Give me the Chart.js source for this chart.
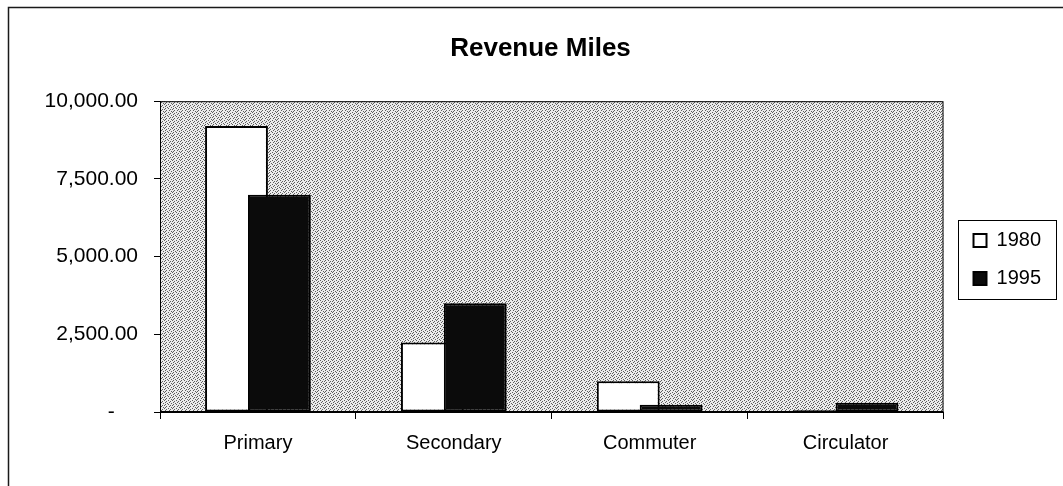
<!DOCTYPE html>
<html><head><meta charset="utf-8">
<script src="https://cdn.jsdelivr.net/npm/chart.js@4.4.0/dist/chart.umd.min.js"></script>
<style>html,body{margin:0;padding:0;background:#fff;} canvas{display:block;}</style>
</head><body>
<canvas id="c" width="1063" height="486"></canvas>
<script>
const categories = ['Primary', 'Secondary', 'Commuter', 'Circulator'];
const seriesNames = ['1980', '1995'];
const values1980 = [9200, 2240, 990, 60];
const values1995 = [6990, 3500, 230, 300];
const yTicks = [0, 2500, 5000, 7500, 10000];
const chartTitle = 'Revenue Miles';

const FONT = '"Liberation Sans", Arial, Helvetica, sans-serif';

function makePattern(ctx) {
  const rows = [
    '10001000',
    '00100010',
    '01000100',
    '00010001',
    '10000100',
    '00101000',
    '01000010',
    '00010100'
  ];
  const t = document.createElement('canvas');
  t.width = 8; t.height = 8;
  const tc = t.getContext('2d');
  tc.fillStyle = '#ececec';
  tc.fillRect(0, 0, 8, 8);
  tc.fillStyle = '#5e5e5e';
  rows.forEach((r, y) => { for (let x = 0; x < 8; x++) if (r[x] === '1') tc.fillRect(x, y, 1, 1); });
  return ctx.createPattern(t, 'repeat');
}

const decor = {
  id: 'decor',
  beforeDraw(chart) {
    const { ctx, chartArea: a } = chart;
    ctx.save();
    ctx.strokeStyle = '#1a1a1a';
    ctx.lineWidth = 1.5;
    ctx.beginPath();
    ctx.moveTo(8.5, chart.height);
    ctx.lineTo(8.5, 7.5);
    ctx.lineTo(chart.width, 7.5);
    ctx.stroke();
    ctx.fillStyle = makePattern(ctx);
    ctx.fillRect(a.left, a.top, a.right - a.left, a.bottom - a.top);
    ctx.strokeStyle = '#000';
    ctx.lineWidth = 1;
    ctx.strokeRect(a.left + 0.5, a.top + 0.5, a.right - a.left - 1, a.bottom - a.top - 1);
    ctx.restore();
  },
  beforeDatasetsDraw(chart) {
    // draw 1980 first so 1995 overlaps it, like the reference
    chart.data.datasets.forEach((d, i) => {
      const m = chart.getDatasetMeta(i);
      if (!m.hidden) m.controller.draw();
    });
    return false;
  },
  afterDraw(chart) {
    const lg = chart.legend;
    const hb = lg.legendHitBoxes;
    if (!hb || !hb.length) return;
    const top = hb[0].top, bot = hb[hb.length - 1].top + hb[hb.length - 1].height;
    const cy = (top + bot) / 2;
    const ctx = chart.ctx;
    ctx.save();
    ctx.strokeStyle = '#000';
    ctx.lineWidth = 1;
    ctx.strokeRect(Math.round(lg.left + 2) + 0.5, Math.round(cy - 39.5) + 0.5, 98, 79);
    ctx.restore();
  }
};

const barStyle = { borderColor: '#000', borderWidth: 2, borderSkipped: false, categoryPercentage: 0.438, barPercentage: 1.465 };

new Chart(document.getElementById('c'), {
  type: 'bar',
  data: {
    labels: categories,
    datasets: [
      Object.assign({ label: seriesNames[0], data: values1980, backgroundColor: '#ffffff' }, barStyle),
      Object.assign({ label: seriesNames[1], data: values1995, backgroundColor: '#0b0b0b' }, barStyle)
    ]
  },
  options: {
    responsive: false,
    devicePixelRatio: 1,
    animation: false,
    layout: { padding: { left: 30, right: 12, top: 0, bottom: 0 } },
    plugins: {
      tooltip: { enabled: false },
      title: {
        display: true,
        text: chartTitle,
        color: '#000',
        font: { family: FONT, size: 26, weight: 'bold', lineHeight: 1.2 },
        padding: { top: 33, bottom: 37 }
      },
      legend: {
        display: true,
        position: 'right',
        fullSize: false,
        title: { display: true, text: '', padding: 0, font: { size: 5, lineHeight: 1.2 } },
        labels: {
          color: '#000',
          font: { family: FONT, size: 20, lineHeight: 1.1 },
          boxWidth: 13,
          boxHeight: 13,
          padding: 18
        }
      }
    },
    scales: {
      x: {
        grid: { display: true, drawOnChartArea: false, drawTicks: true, tickLength: 7, color: '#000', offset: true },
        border: { display: true, color: '#000', width: 1 },
        ticks: { color: '#000', font: { family: FONT, size: 20 }, padding: 12, maxRotation: 0 },
        afterFit(s) { s.height = 74; }
      },
      y: {
        min: 0, max: 10000,
        afterBuildTicks(s) { s.ticks = yTicks.map(v => ({ value: v })); },
        grid: { display: true, drawOnChartArea: false, drawTicks: true, tickLength: 6, color: '#000' },
        border: { display: true, color: '#000', width: 1 },
        ticks: {
          color: '#000',
          font: { family: FONT, size: 21 },
          padding: 16,
          callback(v) {
            return v === 0 ? '-\u2007\u2007' : Number(v).toLocaleString('en-US', { minimumFractionDigits: 2, maximumFractionDigits: 2 });
          }
        },
        afterFit(s) { s.width = 130; }
      },
      yR: {
        position: 'right',
        display: true,
        grid: { display: false },
        border: { display: false },
        ticks: { display: false },
        afterFit(s) { s.width = 12; }
      }
    }
  },
  plugins: [decor]
});
</script>
</body></html>
